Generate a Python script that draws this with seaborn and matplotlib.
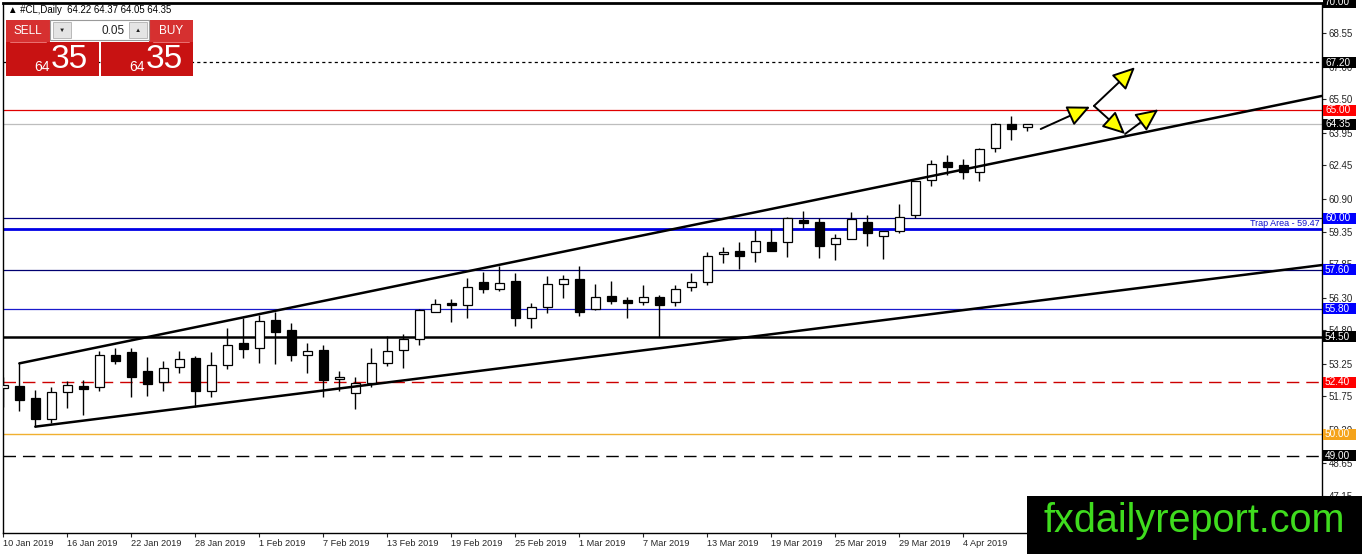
import numpy as np
import pandas as pd
import seaborn as sns
import matplotlib
matplotlib.use("Agg")
import matplotlib.pyplot as plt
from matplotlib.patches import Rectangle

# daily candles (bar 0 = 10 Jan 2019)
opens = [52.12, 52.22, 51.66, 50.69, 51.93, 52.21, 52.16, 53.66, 53.78, 52.92,
         52.40, 53.09, 53.52, 52.00, 53.19, 54.20, 53.97, 55.28, 54.81, 53.65,
         53.89, 52.53, 51.89, 52.38, 53.28, 53.89, 54.39, 55.67, 56.06, 55.96,
         57.04, 56.73, 57.08, 55.39, 55.87, 56.93, 57.16, 55.78, 56.39, 56.20,
         56.13, 56.33, 56.10, 56.80, 57.05, 58.32, 58.47, 58.42, 58.88, 58.88,
         59.91, 59.81, 58.78, 59.01, 59.81, 59.18, 59.40, 60.14, 61.76, 62.58,
         62.45, 62.12, 63.23, 64.34, 64.22]
highs = [52.65, 53.27, 52.04, 52.19, 52.45, 52.50, 53.84, 53.97, 53.97, 53.55,
         53.38, 53.84, 53.60, 53.81, 54.89, 55.36, 55.51, 55.66, 55.15, 54.23,
         54.12, 52.92, 52.63, 53.97, 54.54, 54.62, 55.78, 56.24, 56.24, 57.21,
         57.51, 57.78, 57.44, 56.06, 57.31, 57.36, 57.78, 56.93, 57.10, 56.36,
         56.90, 56.44, 56.90, 57.44, 58.44, 58.67, 58.90, 59.44, 59.48, 60.04,
         60.32, 59.99, 59.26, 60.29, 60.14, 59.41, 60.63, 61.71, 62.69, 62.92,
         62.72, 63.23, 64.42, 64.72, 64.37]
lows = [51.26, 51.08, 50.34, 50.53, 51.19, 50.88, 52.00, 53.23, 51.70, 51.76,
        52.00, 52.81, 51.27, 51.73, 53.00, 53.52, 53.30, 53.23, 53.40, 52.81,
        51.70, 52.00, 51.15, 52.19, 53.17, 53.04, 54.12, 55.64, 55.20, 55.36,
        56.55, 56.64, 55.00, 54.92, 55.62, 56.31, 55.48, 55.74, 56.00, 55.36,
        55.97, 54.48, 55.94, 56.64, 56.90, 57.90, 57.64, 57.95, 58.49, 58.21,
        59.55, 58.17, 58.06, 59.01, 58.72, 58.10, 59.32, 59.99, 61.48, 61.99,
        61.79, 61.73, 63.05, 63.61, 64.05]
closes = [52.27, 51.57, 50.69, 51.93, 52.26, 52.10, 53.66, 53.39, 52.65, 52.30,
          53.07, 53.46, 52.00, 53.19, 54.12, 53.93, 55.25, 54.74, 53.64, 53.84,
          52.50, 52.63, 52.35, 53.28, 53.86, 54.39, 55.74, 56.02, 55.96, 56.79,
          56.73, 56.98, 55.36, 55.90, 56.93, 57.16, 55.67, 56.36, 56.17, 56.08,
          56.33, 55.97, 56.70, 57.02, 58.25, 58.43, 58.25, 58.94, 58.49, 59.99,
          59.78, 58.72, 59.06, 59.94, 59.32, 59.41, 60.04, 61.71, 62.49, 62.38,
          62.12, 63.18, 64.34, 64.11, 64.35]

date_labels = ["10 Jan 2019", "16 Jan 2019", "22 Jan 2019", "28 Jan 2019",
               "1 Feb 2019", "7 Feb 2019", "13 Feb 2019", "19 Feb 2019",
               "25 Feb 2019", "1 Mar 2019", "7 Mar 2019", "13 Mar 2019",
               "19 Mar 2019", "25 Mar 2019", "29 Mar 2019", "4 Apr 2019"]

price_ticks = [47.15, 48.65, 50.20, 51.75, 53.25, 54.80, 56.30, 57.85, 59.35,
               60.90, 62.45, 63.95, 65.50, 67.00, 68.55]

# horizontal levels drawn on the chart
levels = [67.20, 65.00, 64.35, 60.00, 59.47, 57.60, 55.80, 54.50, 52.40, 50.00, 49.00]
boxed_levels = [70.00, 67.20, 65.00, 64.35, 60.00, 57.60, 55.80, 54.50, 52.40, 50.00, 49.00]

# channel lines (bar index, price)
upper_bars = [1, 82.4]
upper_prices = [53.27, 65.65]
lower_bars = [2, 82.4]
lower_prices = [50.34, 57.82]

# scenario arrows (bar index, price)
arrow_from_bar = [64.84, 68.17, 68.17, 70.11]
arrow_from_price = [64.12, 65.19, 65.19, 63.89]
arrow_to_bar = [67.92, 70.73, 70.11, 72.19]
arrow_to_price = [65.15, 66.98, 63.89, 65.03]

header = "\u25b2 #CL,Daily  64.22 64.37 64.05 64.35"

df = pd.DataFrame({"open": opens, "high": highs, "low": lows, "close": closes})
df["bar"] = np.arange(len(df))
df["up"] = df["close"] >= df["open"]

# styles
level_colors = ["black", "#e00000", "#bdbdbd", "#000080", "#0000e6", "#000070",
                "#1a1acc", "black", "#cc0000", "#f0b030", "black"]
level_widths = [0.9, 0.9, 0.9, 0.9, 2.0, 0.9, 0.9, 1.8, 1.0, 1.0, 1.0]
level_styles = [(0, (2.5, 2.5)), "-", "-", "-", "-", "-", "-", "-",
                (0, (9, 5)), "-", (0, (9, 5))]
box_colors = ["black", "black", "#ff0000", "black", "#0000ff", "#0000ff",
              "#0000ff", "black", "#ff0000", "#f5a31a", "black"]

sns.set_style("white")
plt.rcParams["font.family"] = ["Liberation Sans", "DejaVu Sans"]

W, H = 1362, 554
fig = plt.figure(figsize=(W / 100, H / 100), dpi=100)
ax = fig.add_axes([3 / W, (H - 533) / H, (1322 - 3) / W, (533 - 3) / H])

ax.set_xlim(-0.02, 82.42)
ax.set_ylim(65 - (533 - 110) / 21.6, 65 + (110 - 3) / 21.6)

for v, c, lw, ls in zip(levels, level_colors, level_widths, level_styles):
    ax.axhline(v, color=c, lw=lw, ls=ls, zorder=1)

ax.annotate("Trap Area - 59.47", xy=(1, 59.47), xycoords=("axes fraction", "data"),
            xytext=(-2, 1.5), textcoords="offset pixels", ha="right", va="bottom",
            color="#1010cc", fontsize=6.5)

# candles
ax.vlines(df["bar"], df["low"], df["high"], color="black", lw=1, zorder=3)
body_lo = np.minimum(df["open"], df["close"])
body_h = np.abs(df["close"] - df["open"])
ax.bar(df["bar"], body_h, bottom=body_lo, width=0.58,
       color=np.where(df["up"], "white", "black"), edgecolor="black", lw=0.9, zorder=4)

# channel
sns.lineplot(x=upper_bars, y=upper_prices, color="black", lw=1.8, ax=ax,
             estimator=None, sort=False, zorder=5)
sns.lineplot(x=lower_bars, y=lower_prices, color="black", lw=1.8, ax=ax,
             estimator=None, sort=False, zorder=5)

for x0, y0, x1, y1 in zip(arrow_from_bar, arrow_from_price, arrow_to_bar, arrow_to_price):
    ax.annotate("", xy=(x1, y1), xytext=(x0, y0),
                arrowprops=dict(arrowstyle="-|>,head_length=0.6,head_width=0.28",
                                mutation_scale=23, fc="#ffff00", ec="black", lw=1.4,
                                shrinkA=0, shrinkB=0), zorder=6)

ax.set_xticks(np.arange(0, 4 * len(date_labels), 4))
ax.set_xticklabels(date_labels, ha="left", fontsize=6.6)
ax.yaxis.tick_right()
ax.set_yticks(price_ticks)
ax.set_yticklabels([f"{t:.2f}" for t in price_ticks], fontsize=7)
ax.tick_params(axis="x", direction="out", length=3, width=0.8, pad=1, bottom=True)
ax.tick_params(axis="y", direction="out", length=3, width=0.8, pad=2, right=True, left=False)
for s in ax.spines.values():
    s.set_color("black")
    s.set_linewidth(1)
ax.spines["top"].set_linewidth(2)
ax.set_xlabel("")
ax.set_ylabel("")

# overlay in pixel coordinates for the terminal widgets
ov = fig.add_axes([0, 0, 1, 1], zorder=10)
ov.set_xlim(0, W)
ov.set_ylim(H, 0)
ov.axis("off")
ov.patch.set_alpha(0)

fig.canvas.draw()
for v, c in zip(boxed_levels, box_colors):
    ypix = H - ax.transData.transform((0, v))[1]
    ov.add_patch(Rectangle((1323, ypix - 5.5), 33, 11, fc=c, ec="none"))
    ov.text(1325, ypix + 0.3, f"{v:.2f}", color="white", fontsize=7.2, va="center", ha="left")

ov.text(8, 10, header, fontsize=6.9, va="center", ha="left", color="black")

red_top = "#d63030"
red_box = "#c81212"
ov.add_patch(Rectangle((6, 20), 44, 21.5, fc=red_top, ec="none"))
ov.add_patch(Rectangle((149, 20), 44, 21.5, fc=red_top, ec="none"))
ov.add_patch(Rectangle((50, 20), 99, 20, fc="white", ec="#9a9a9a", lw=0.8))
ov.add_patch(Rectangle((53, 22), 18, 16, fc="#e4e4e4", ec="#b0b0b0", lw=0.6))
ov.add_patch(Rectangle((129, 22), 18, 16, fc="#e4e4e4", ec="#b0b0b0", lw=0.6))
ov.text(62, 30, "\u25bc", fontsize=4.5, ha="center", va="center", color="#222222")
ov.text(138, 30, "\u25b2", fontsize=4.5, ha="center", va="center", color="#222222")
ov.text(125, 30.5, "0.05", fontsize=8.5, ha="right", va="center", color="#222222")
ov.text(28, 31, "SELL", fontsize=8.5, ha="center", va="center", color="white")
ov.text(171, 31, "BUY", fontsize=8.5, ha="center", va="center", color="white")
ov.plot([10, 46], [41.6, 41.6], color="#f08080", lw=0.6)
ov.plot([153, 189], [41.6, 41.6], color="#f08080", lw=0.6)
ov.add_patch(Rectangle((6, 42), 93, 34, fc=red_box, ec="none"))
ov.add_patch(Rectangle((101, 42), 92, 34, fc=red_box, ec="none"))
for cx in (42, 136.5):
    ov.text(cx, 67, "64", fontsize=10, ha="center", va="center", color="white")
    ov.text(cx + 27.5, 59, "35", fontsize=24, ha="center", va="center", color="white")

# site logo
ov.add_patch(Rectangle((1027, 496), W - 1027, H - 496, fc="black", ec="none"))
ov.text(1044, 521, "fxdailyreport.com", fontsize=28.5, color="#3fdc1e",
        ha="left", va="center")

fig.savefig("out.png", dpi=100)
